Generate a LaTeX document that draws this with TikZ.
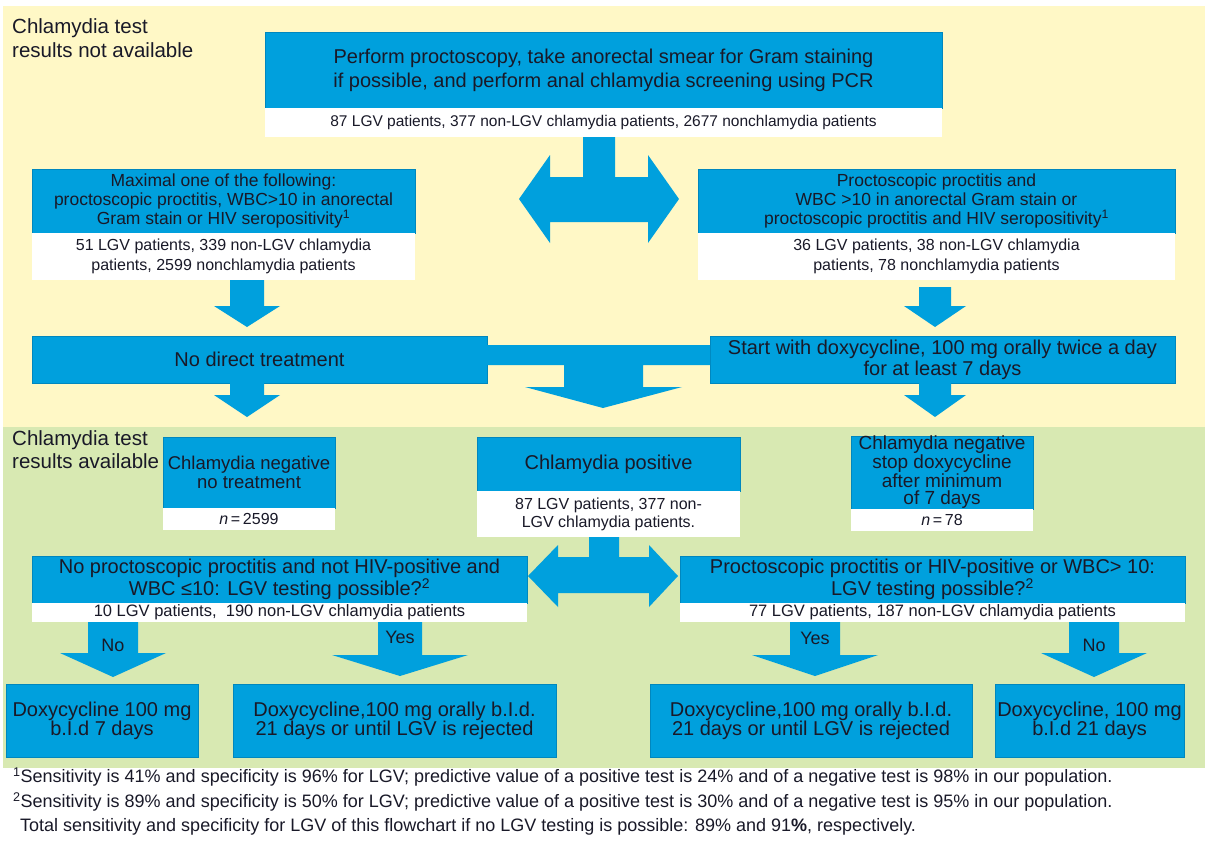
\documentclass[tikz,border=0pt]{standalone}
\usepackage{fontspec}
\setmainfont{Liberation Sans}
\definecolor{cblue}{RGB}{0,160,221}
\definecolor{cedge}{RGB}{0,135,190}
\definecolor{cyellow}{RGB}{255,248,198}
\definecolor{cgreen}{RGB}{216,233,178}
\definecolor{ctext}{RGB}{25,25,40}
\newcommand\fs[2]{\fontsize{#1}{#2}\selectfont}
% name, style, x1, y1, x2, y2, text
\newcommand\rbox[7]{\node[#2, minimum width={(#5)-(#3)}, minimum height={(#6)-(#4)}] (#1) at ({((#3)+(#5))/2},{((#4)+(#6))/2}) {#7};}
% down block arrow: cx, ytop, yhead, ytip, stemhalf, headhalf
\newcommand\darrow[6]{\fill[cblue] ({#1-#5},#2) -- ({#1+#5},#2) -- ({#1+#5},#3) -- ({#1+#6},#3) -- (#1,#4) -- ({#1-#6},#3) -- ({#1-#5},#3) -- cycle;}
\begin{document}
\begin{tikzpicture}[x=1pt,y=-1pt,
  bl/.style={fill=cblue, draw=cedge, line width=0.5pt, inner sep=0pt, outer sep=0pt, align=center, text=ctext},
  wh/.style={fill=white, inner sep=0pt, outer sep=0pt, align=center, text=ctext},
  lbl/.style={inner sep=0pt, align=left, text=ctext, anchor=north west},
  foot/.style={inner sep=0pt, anchor=west, text=ctext, font=\fs{18}{20}}]
\useasboundingbox (0,0) rectangle (1207,844);
\fill[white] (0,0) rectangle (1207,844);
\fill[cyellow] (3,6) rectangle (1205,427);
\fill[cgreen] (3,427) rectangle (1205,768);

% labels
\node[lbl, font=\fs{20.5}{24}] (lab1) at (12,18) {Chlamydia test\\results not available};
\node[lbl, font=\fs{20.5}{23}] (lab2) at (12,430) {Chlamydia test\\results available};

% row 1
\rbox{top}{bl, font=\fs{20}{24}}{265}{32}{942}{108}{Perform proctoscopy, take anorectal smear for Gram staining\\if possible, and perform anal chlamydia screening using PCR}
\rbox{topw}{wh, font=\fs{15.5}{18}}{265}{108}{942}{137}{87 LGV patients, 377 non-LGV chlamydia patients, 2677 nonchlamydia patients}

% top double arrow
\fill[cblue] (583,137) -- (615,137) -- (615,177) -- (648,177) -- (648,155) -- (679,199) -- (648,243) -- (648,222) -- (550,222) -- (550,243) -- (519,199) -- (550,155) -- (550,177) -- (583,177) -- cycle;

% row 2
\rbox{l2}{bl, font=\fs{17.5}{19}}{32}{169}{415}{233}{Maximal one of the following:\\proctoscopic proctitis, WBC>10 in anorectal\\Gram stain or HIV seropositivity\textsuperscript{1}}
\rbox{l2w}{wh, font=\fs{16}{20}}{32}{233}{415}{280}{51 LGV patients, 339 non-LGV chlamydia\\patients, 2599 nonchlamydia patients}
\rbox{r2}{bl, font=\fs{17.5}{19}}{698}{169}{1175}{233}{Proctoscopic proctitis and\\WBC >10 in anorectal Gram stain or\\proctoscopic proctitis and HIV seropositivity\textsuperscript{1}}
\rbox{r2w}{wh, font=\fs{16}{20}}{698}{233}{1175}{280}{36 LGV patients, 38 non-LGV chlamydia\\patients, 78 nonchlamydia patients}

\darrow{247}{280}{306}{327}{17}{33}
\darrow{935}{287}{306}{327}{16}{31}

% row 3
\rbox{ndt}{bl, font=\fs{20}{22}}{32}{336}{487}{383}{No direct treatment}
\rbox{start}{bl, font=\fs{20}{21}}{710}{336}{1175}{383}{Start with doxycycline, 100 mg orally twice a day\\for at least 7 days}
% merge arrow
\fill[cblue] (487,345) -- (710,345) -- (710,365) -- (643,365) -- (643,387) -- (682,387) -- (603,408) -- (525,387) -- (564,387) -- (564,365) -- (487,365) -- cycle;

\darrow{247}{383}{395}{417}{17}{33}
\darrow{935}{383}{395}{417}{16}{31}

% row 4
\rbox{cneg}{bl, font=\fs{18.5}{19}}{163}{437}{335}{508}{Chlamydia negative\\no treatment}
\rbox{cnegw}{wh, font=\fs{16}{18}}{163}{508}{335}{530}{\textit{n}\,=\,2599}
\rbox{cpos}{bl, font=\fs{20}{22}}{477}{437}{740}{491}{Chlamydia positive}
\rbox{cposw}{wh, font=\fs{16}{18}}{477}{491}{740}{537}{87 LGV patients, 377 non-\\LGV chlamydia patients.}
\rbox{cneg2}{bl, font=\fs{19}{17.5}}{851}{436}{1033}{509}{Chlamydia negative\\stop doxycycline\\after minimum\\of 7 days}
\rbox{cneg2w}{wh, font=\fs{16}{18}}{851}{509}{1033}{531}{\textit{n}\,=\,78}

% row 5 double arrow
\fill[cblue] (589,537) -- (619,537) -- (619,557) -- (649,557) -- (649,545) -- (678,576) -- (649,607) -- (649,593) -- (558,593) -- (558,607) -- (528,576) -- (558,545) -- (558,557) -- (589,557) -- cycle;

% row 5
\rbox{l5}{bl, font=\fs{20}{22}}{32}{556}{527}{603}{No proctoscopic proctitis and not HIV-positive and\\WBC ≤10: LGV testing possible?\textsuperscript{2}}
\rbox{l5w}{wh, font=\fs{16.5}{18}}{32}{603}{527}{622}{10 LGV patients,\ \ 190 non-LGV chlamydia patients}
\rbox{r5}{bl, font=\fs{20}{22}}{680}{556}{1185}{603}{Proctoscopic proctitis or HIV-positive or WBC> 10:\\LGV testing possible?\textsuperscript{2}}
\rbox{r5w}{wh, font=\fs{16.5}{18}}{680}{603}{1185}{622}{77 LGV patients, 187 non-LGV chlamydia patients}

% row 6 arrows
\darrow{113}{622}{653}{677}{25}{53}
\darrow{400}{622}{655}{676}{22}{68}
\darrow{815}{622}{655}{676}{25}{63}
\darrow{1094}{622}{653}{677}{25}{53}
\node[text=ctext, font=\fs{18}{20}, inner sep=0pt] (no1) at (113,645) {No};
\node[text=ctext, font=\fs{18}{20}, inner sep=0pt] (yes1) at (400,637) {Yes};
\node[text=ctext, font=\fs{18}{20}, inner sep=0pt] (yes2) at (815,638) {Yes};
\node[text=ctext, font=\fs{18}{20}, inner sep=0pt] (no2) at (1094,645) {No};

% row 7
\rbox{d1}{bl, font=\fs{20}{19}}{6}{684}{198}{757}{Doxycycline 100 mg\\b.I.d 7 days}
\rbox{d2}{bl, font=\fs{20}{19}}{233}{684}{556}{757}{Doxycycline,100 mg orally b.I.d.\\21 days or until LGV is rejected}
\rbox{d3}{bl, font=\fs{20}{19}}{650}{684}{972}{757}{Doxycycline,100 mg orally b.I.d.\\21 days or until LGV is rejected}
\rbox{d4}{bl, font=\fs{20}{19}}{995}{684}{1184}{757}{Doxycycline, 100 mg\\b.I.d 21 days}

% footnotes
\node[foot] (f1) at (13,777) {\textsuperscript{1}Sensitivity is 41\% and specificity is 96\% for LGV; predictive value of a positive test is 24\% and of a negative test is 98\% in our population.};
\node[foot] (f2) at (13,802) {\textsuperscript{2}Sensitivity is 89\% and specificity is 50\% for LGV; predictive value of a positive test is 30\% and of a negative test is 95\% in our population.};
\node[foot] (f3) at (20,827) {Total sensitivity and specificity for LGV of this flowchart if no LGV testing is possible: 89\% and 91\textbf{\%}, respectively.};
\end{tikzpicture}
\end{document}
